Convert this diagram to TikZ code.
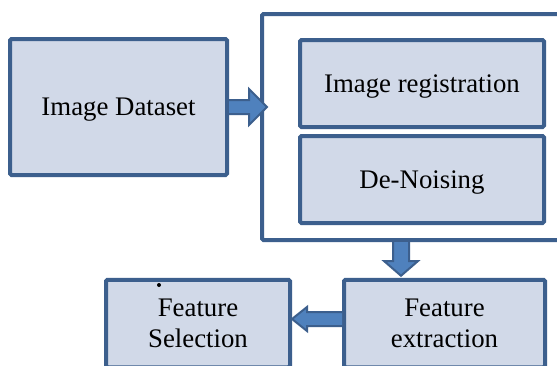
\documentclass[tikz,border=0pt]{standalone}
\usepackage{fontspec}
\setmainfont{Liberation Serif}
\usetikzlibrary{calc}
\definecolor{boxline}{HTML}{3C5F8D}
\definecolor{boxfill}{HTML}{D1D9E8}
\definecolor{arrfill}{HTML}{4F81BD}
\tikzset{
  blk/.style={draw=boxline, line width=4pt, fill=boxfill, rounded corners=1.5pt, inner sep=0pt,
    align=center, font=\fontsize{26.8}{31}\selectfont, text depth=0pt},
  holder/.style={draw=boxline, line width=4pt, fill=white, rounded corners=1.5pt, inner sep=0pt},
  fatarrow/.style={draw=boxline, line width=2pt, fill=arrfill, line join=miter}
}
\begin{document}
\begin{tikzpicture}[x=1pt,y=-1pt]
\clip (0,0) rectangle (557,365);
\fill[white] (0,0) rectangle (557,365);
\node[blk, minimum width=217pt, minimum height=136pt] (ds) at (118.5,107) {Image Dataset};
\node[holder, minimum width=318pt, minimum height=226pt] (prep) at (421,127) {};
\node[blk, minimum width=244pt, minimum height=87pt] (reg) at (422,83.5) {Image registration};
\node[blk, minimum width=244pt, minimum height=87pt] (dn) at (422,179.5) {De-Noising};
\node[blk, minimum width=201pt, minimum height=87.5pt] (fe) at (444.5,323.5) {Feature\\extraction};
\node[blk, minimum width=184pt, minimum height=87.5pt] (fs) at (198,323.5) {Feature\\Selection};
\fill (159,285) circle (2pt);
% arrow: dataset -> preprocessing
\draw[fatarrow] ($(ds.east)+(0,-7)$) -- ++(20,0) -- ++(0,-11) -- ($(ds.east)+(38,0)$)
  -- ($(ds.east)+(20,18)$) -- ++(0,-11) -- ($(ds.east)+(0,7)$);
% arrow: preprocessing -> feature extraction
\coordinate (dtop) at (401,242);
\coordinate (dtip) at ($(dtop |- fe.north)+(0,-2)$);
\draw[fatarrow] ($(dtop)+(-8,0)$) -- ++(0,19) -- ++(-9,0) -- (dtip)
  -- ($(dtop)+(17,19)$) -- ++(-9,0) -- ($(dtop)+(8,0)$);
% arrow: feature extraction -> feature selection
\coordinate (la) at (342,319);
\coordinate (lt) at (fs.east |- la);
\draw[fatarrow] ($(la)+(0,-7)$) -- ($(lt)+(15,-7)$) -- ($(lt)+(15,-12)$) -- (lt)
  -- ($(lt)+(15,12)$) -- ($(lt)+(15,7)$) -- ($(la)+(0,7)$);
\end{tikzpicture}
\end{document}
